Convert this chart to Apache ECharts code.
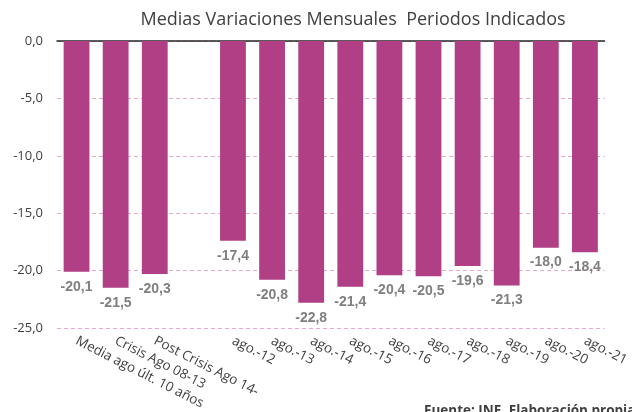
<!DOCTYPE html>
<html>
<head>
<meta charset="utf-8">
<script src="https://cdn.jsdelivr.net/npm/echarts@6/dist/echarts.min.js"></script>
<style>
  html, body { margin: 0; padding: 0; background: #fff; }
  #chart { width: 632px; height: 412px; }
</style>
</head>
<body>
<div id="chart"></div>
<script>
// categorías (la cuarta va vacía, hueco entre medias y años)
var categorias = [
  "Media ago últ. 10 años", "Crisis Ago 08-13", "Post Crisis Ago 14-", "",
  "ago.-12", "ago.-13", "ago.-14", "ago.-15", "ago.-16", "ago.-17",
  "ago.-18", "ago.-19", "ago.-20", "ago.-21"
];

// variaciones mensuales medias
var valores = [
  -20.1, -21.5, -20.3, null,
  -17.4, -20.8, -22.8, -21.4, -20.4, -20.5,
  -19.6, -21.3, -18.0, -18.4
];

var titulo = "Medias Variaciones Mensuales  Periodos Indicados";
var fuente = "Fuente: INE. Elaboración propia";

function coma(v) {
  return Number(v).toFixed(1).replace(".", ",");
}

var chart = echarts.init(document.getElementById("chart"));

var option = {
  animation: false,
  title: {
    text: titulo,
    left: 348,
    textAlign: "center",
    top: 6,
    textStyle: {
      fontFamily: "Open Sans",
      fontWeight: "normal",
      fontSize: 18,
      color: "#404040"
    }
  },
  grid: { left: 57, right: 27, top: 41, bottom: 84 },
  xAxis: [
    {
      type: "category",
      data: categorias,
      position: "bottom",
      axisLine: { show: false },
      axisTick: { show: false },
      axisLabel: {
        interval: 0,
        rotate: -27,
        margin: 12,
        fontFamily: "Open Sans",
        fontSize: 13.5,
        color: "#404040"
      }
    },
    {
      type: "category",
      data: categorias,
      position: "top",
      axisLine: { show: true, lineStyle: { color: "#262626", width: 1.5 } },
      axisTick: { show: false },
      axisLabel: { show: false }
    }
  ],
  yAxis: {
    type: "value",
    min: -25,
    max: 0,
    interval: 5,
    axisLine: { show: false },
    axisTick: { show: false },
    axisLabel: {
      formatter: coma,
      fontFamily: "Open Sans",
      fontSize: 13,
      color: "#404040",
      margin: 14
    },
    splitLine: {
      lineStyle: { color: "#E8A8D0", type: [4, 3], width: 1 }
    }
  },
  series: [
    {
      type: "bar",
      data: valores,
      barWidth: "66%",
      itemStyle: { color: "#B03F86" },
      label: {
        show: true,
        position: "bottom",
        distance: 8,
        formatter: function (p) { return coma(p.value); },
        fontFamily: "Liberation Sans",
        fontWeight: "bold",
        fontSize: 14,
        color: "#7F7F7F"
      }
    }
  ],
  graphic: [
    {
      type: "text",
      left: 424,
      top: 404,
      style: {
        text: fuente,
        fontFamily: "Open Sans",
        fontWeight: "bold",
        fontSize: 13.5,
        fill: "#404040"
      }
    }
  ]
};

chart.setOption(option);
</script>
</body>
</html>
